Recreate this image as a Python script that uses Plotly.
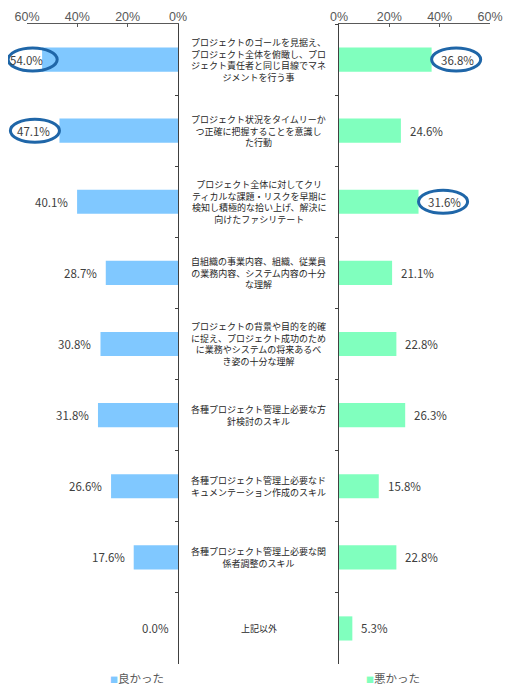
import plotly.graph_objects as go
from plotly.subplots import make_subplots

# -----------------------------------------------------------------------
# data
categories = [
    'プロジェクトのゴールを見据え、<br>プロジェクト全体を俯瞰し、プロ<br>ジェクト責任者と同じ目線でマネ<br>ジメントを行う事',
    'プロジェクト状況をタイムリーか<br>つ正確に把握することを意識し<br>た行動',
    'プロジェクト全体に対してクリ<br>ティカルな課題・リスクを早期に<br>検知し積極的な拾い上げ、解決に<br>向けたファシリテート',
    '自組織の事業内容、組織、従業員<br>の業務内容、システム内容の十分<br>な理解',
    'プロジェクトの背景や目的を的確<br>に捉え、プロジェクト成功のため<br>に業務やシステムの将来あるべ<br>き姿の十分な理解',
    '各種プロジェクト管理上必要な方<br>針検討のスキル',
    '各種プロジェクト管理上必要なド<br>キュメンテーション作成のスキル',
    '各種プロジェクト管理上必要な関<br>係者調整のスキル',
    '上記以外',
]
good = [54.0, 47.1, 40.1, 28.7, 30.8, 31.8, 26.6, 17.6, 0.0]
bad = [36.8, 24.6, 31.6, 21.1, 22.8, 26.3, 15.8, 22.8, 5.3]
good_name = '良かった'
bad_name = '悪かった'
circled_good = [0, 1]      # category index with a circle round the label
circled_bad = [0, 2]

tick_vals = [0, 20, 40, 60]
tick_text = ['0%', '20%', '40%', '60%']

# ----------------------------------------------------------------------
col_good = '#80C8FF'
col_bad = '#80FFBE'
col_ring = '#1F66A8'
font_jp = 'Noto Sans CJK JP'
x_max = 60
label_lim = 50      # left labels are kept inside the page
label_gap = 7

W, H = 518, 700
off = 8     # page body margin of the html page
m_l, m_t = 27 - off, 24 - off
m_r, m_b = W - (490 - off), H - (664 - off)
plot_w = W - m_l - m_r
plot_h = H - m_t - m_b
dom_left = [0, 151 / plot_w]
dom_right = [(339 - 27) / plot_w, 1]

fig = make_subplots(rows=1, cols=2, shared_yaxes=False, horizontal_spacing=0)

fig.add_trace(go.Bar(
    x=good, y=categories, orientation='h', name=good_name,
    marker=dict(color=col_good, line=dict(width=0)),
    showlegend=False, width=0.34,
), row=1, col=1)

fig.add_trace(go.Bar(
    x=bad, y=categories, orientation='h', name=bad_name,
    marker=dict(color=col_bad, line=dict(width=0)),
    showlegend=False, width=0.34,
), row=1, col=2)

# value labels beside the bar ends
lab_font = dict(size=11.5, color='#404040', family=font_jp)
for c, v in zip(categories, good):
    fig.add_annotation(xref='x', yref='y', x=min(v, label_lim), y=c, text='%.1f%%' % v,
                       xanchor='right', yanchor='middle', xshift=-label_gap,
                       showarrow=False, font=lab_font)
for c, v in zip(categories, bad):
    fig.add_annotation(xref='x2', yref='y2', x=v, y=c, text='%.1f%%' % v,
                       xanchor='left', yanchor='middle', xshift=label_gap,
                       showarrow=False, font=lab_font)

xaxis_common = dict(
    side='top', tickvals=tick_vals, ticktext=tick_text, automargin=False,
    showgrid=False, zeroline=False, showline=True, linecolor='#595959', linewidth=1,
    ticks='inside', ticklen=3, tickcolor='#595959', ticklabelstandoff=-3,
    tickfont=dict(size=12.5, color='#595959', family='Liberation Sans'),
)
fig.update_xaxes(range=[x_max, 0], domain=dom_left, **xaxis_common, row=1, col=1)
fig.update_xaxes(range=[0, x_max], domain=dom_right, **xaxis_common, row=1, col=2)

yaxis_common = dict(
    type='category', autorange='reversed', showticklabels=False, showgrid=False,
    zeroline=False, showline=True, linecolor='#404040', linewidth=1, automargin=False,
    tickson='boundaries', ticklen=3, tickcolor='#404040',
)
fig.update_yaxes(side='right', ticks='inside', **yaxis_common, row=1, col=1)
fig.update_yaxes(side='left', ticks='outside', **yaxis_common, row=1, col=2)

# category labels in the middle column
n = len(categories)
for i, c in enumerate(categories):
    fig.add_annotation(
        xref='paper', yref='paper', x=0.5, y=1 - (i + 0.5) / n,
        xanchor='center', yanchor='middle',
        text=c, showarrow=False, align='center',
        font=dict(size=9, color='#262626', family=font_jp),
    )


# rings round some of the value labels (positions from the values)
def to_paper_left(v):
    return dom_left[0] + (dom_left[1] - dom_left[0]) * (1 - v / x_max)


def to_paper_right(v):
    return dom_right[0] + (dom_right[1] - dom_right[0]) * v / x_max


ring_w = 19.5          # ring width in % units
ring_h = 23 / plot_h   # ring height in paper units
shapes = []
for i in circled_good:
    hi = min(good[i] + ring_w, 67.5)
    yc = 1 - (i + 0.5) / n
    shapes.append(dict(type='circle', xref='paper', yref='paper',
                       x0=to_paper_left(hi), x1=to_paper_left(hi - ring_w),
                       y0=yc - ring_h / 2, y1=yc + ring_h / 2,
                       line=dict(color=col_ring, width=3)))
for i in circled_bad:
    v = bad[i]
    yc = 1 - (i + 0.5) / n
    shapes.append(dict(type='circle', xref='paper', yref='paper',
                       x0=to_paper_right(v), x1=to_paper_right(v + ring_w),
                       y0=yc - ring_h / 2, y1=yc + ring_h / 2,
                       line=dict(color=col_ring, width=3)))

# legend entries placed under each half
fig.add_annotation(xref='paper', yref='paper', x=(108 - 27) / plot_w, y=-14 / plot_h,
                   xanchor='left', yanchor='middle', showarrow=False,
                   text="<span style='color:%s;font-size:8px'>■</span>%s" % (col_good, good_name),
                   font=dict(size=11.5, color='#595959', family=font_jp))
fig.add_annotation(xref='paper', yref='paper', x=(364 - 27) / plot_w, y=-14 / plot_h,
                   xanchor='left', yanchor='middle', showarrow=False,
                   text="<span style='color:%s;font-size:8px'>■</span>%s" % (col_bad, bad_name),
                   font=dict(size=11.5, color='#595959', family=font_jp))

fig.update_layout(
    width=W, height=H,
    margin=dict(l=m_l, r=m_r, t=m_t, b=m_b, autoexpand=False),
    plot_bgcolor='white', paper_bgcolor='white',
    font=dict(family=font_jp),
    shapes=shapes,
    showlegend=False,
)

fig.write_html("out.html")
